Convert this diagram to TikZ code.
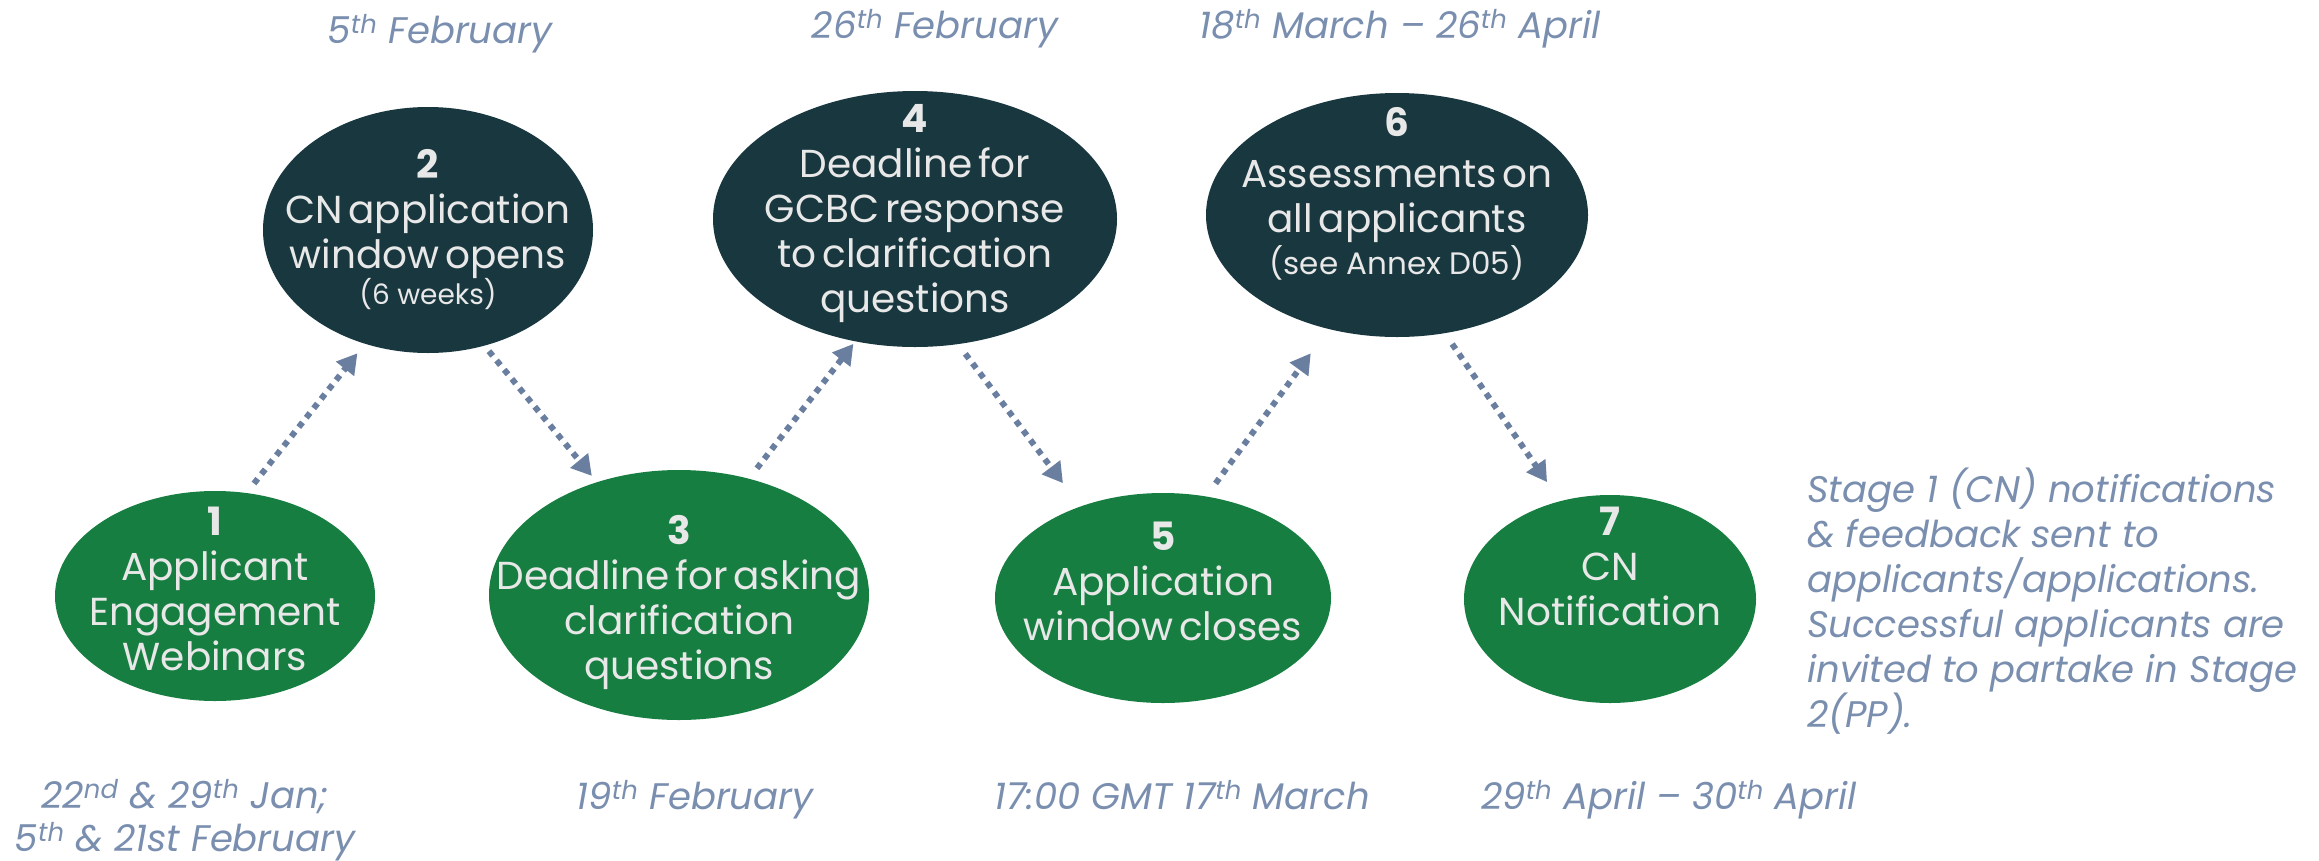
\documentclass[tikz,border=0pt]{standalone}
\usepackage{fontspec}
\setmainfont{Poppins}
\newfontfamily\tightfont{Poppins}[WordSpace=0.55]
\usetikzlibrary{shapes.geometric,arrows.meta}
\definecolor{grn}{HTML}{177E41}
\definecolor{dark}{HTML}{18373F}
\definecolor{txt}{HTML}{E8E8E8}
\definecolor{datec}{HTML}{7A8FAF}
\definecolor{arr}{HTML}{6A7FA0}
\begin{document}
\begin{tikzpicture}[x=1pt,y=-1pt,
 ell/.style={ellipse, draw=none, inner sep=0pt},
 gell/.style={ell, fill=grn},
 dell/.style={ell, fill=dark},
 etext/.style={text=txt, align=center, inner sep=0pt, anchor=north, font=\tightfont\fontsize{39}{45}\selectfont},
 datetext/.style={text=datec, inner sep=0pt, anchor=base, font=\fontsize{37}{45}\selectfont\itshape},
 flow/.style={draw=arr, line width=6pt, dash pattern=on 6pt off 6pt, -{Triangle[length=20pt,width=22pt]}}
]
\useasboundingbox (0,0) rectangle (2319,860);
\fill[white] (0,0) rectangle (2319,860);

% ellipses
\node[gell, minimum width=320pt, minimum height=210pt] (e1) at (215,596) {};
\node[dell, minimum width=330pt, minimum height=246pt] (e2) at (428,230) {};
\node[gell, minimum width=380pt, minimum height=250pt] (e3) at (679,595) {};
\node[dell, minimum width=404pt, minimum height=256pt] (e4) at (915,219) {};
\node[gell, minimum width=336pt, minimum height=210pt] (e5) at (1163,598) {};
\node[dell, minimum width=382pt, minimum height=244pt] (e6) at (1397,215) {};
\node[gell, minimum width=292pt, minimum height=208pt] (e7) at (1610,599) {};

% ellipse texts
\node[etext] (t1) at (215,507) {\textbf{1}\\Applicant\\Engagement\\Webinars};
\node[etext] (t2) at (428,149) {\textbf{2}\\CN application\\window opens\\[-9pt]{\rmfamily\fontsize{28}{36}\selectfont (6 weeks)}};
\node[etext] (t3) at (679,515) {\textbf{3}\\Deadline for asking\\clarification\\questions};
\node[etext] (t4) at (915,104) {\textbf{4}\\Deadline for\\GCBC response\\to clarification\\questions};
\node[etext] (t5) at (1163,522) {\textbf{5}\\Application\\window closes};
\node[etext] (t6) at (1397,107) {\textbf{6}\\[6pt]Assessments on\\all applicants\\[-3pt]{\rmfamily\fontsize{31}{40}\selectfont (see Annex D05)}};
\node[etext] (t7) at (1610,507) {\textbf{7}\\CN\\Notification};

% dates
\node[datetext] (d2) at (440,43) {5\textsuperscript{th} February};
\node[datetext] (d4) at (935,38) {26\textsuperscript{th} February};
\node[datetext] (d6) at (1400,38) {18\textsuperscript{th} March – 26\textsuperscript{th} April};
\node[datetext] (d1a) at (185,808) {22\textsuperscript{nd} \& 29\textsuperscript{th} Jan;};
\node[datetext] (d1b) at (185,851) {5\textsuperscript{th} \& 21st February};
\node[datetext] (d3) at (695,809) {19\textsuperscript{th} February};
\node[datetext] (d5) at (1182,809) {17:00 GMT 17\textsuperscript{th} March};
\node[datetext] (d7) at (1669,809) {29\textsuperscript{th} April – 30\textsuperscript{th} April};

\node[text=datec, inner sep=0pt, anchor=north west, align=left, font=\fontsize{37}{45}\selectfont\itshape] (note) at (1807,468)
 {Stage 1 (CN) notifications\\\& feedback sent to\\applicants/applications.\\Successful applicants are\\invited to partake in Stage\\2(PP).};

% connectors
\draw[flow, shorten <=12pt, shorten >=12pt] (e1.73) -- (e2.241);
\draw[flow, shorten <=7pt, shorten >=8pt] (e2.296) -- (e3.126);
\draw[flow, shorten <=13pt, shorten >=3pt] (e3.59) -- (e4.244);
\draw[flow, shorten <=12pt, shorten >=29pt] (e4.289) -- (e5.132);
\draw[flow, shorten <=16pt, shorten >=30pt] (e5.67) -- (e6.239);
\draw[flow, shorten <=13pt, shorten >=23pt] (e6.292) -- (e7.117);
\end{tikzpicture}
\end{document}
